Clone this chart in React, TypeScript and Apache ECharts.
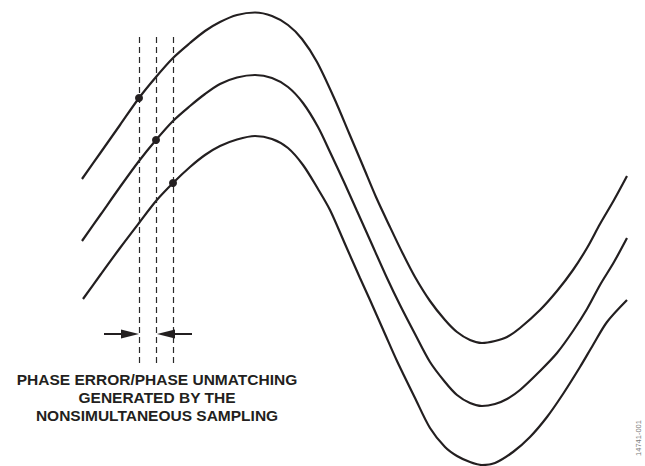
import React, { useEffect, useRef } from "react";
import * as echarts from "echarts";

// Curves: [x, y] (y grows downward)
const curveTop: [number, number][] = [
  [82, 179], [101, 152], [120, 125], [139, 98], [156, 77], [173, 58], [190, 43], [205, 31],
  [220, 22], [237, 15], [255, 12.5], [272, 16], [288, 25], [302, 39], [317, 62], [335, 100],
  [349, 133], [363, 166], [376, 197], [390, 227], [403, 254], [415, 277], [430, 301],
  [445, 320], [457, 332], [470, 340], [482, 343], [495, 341], [507, 337], [520, 328],
  [540, 310], [557, 291], [573, 270], [587, 248], [600, 224], [614, 200], [627, 176],
];
const curveMid: [number, number][] = [
  [82, 241], [101, 214], [120, 187], [139, 161], [156, 140], [173, 121], [190, 106], [205, 94],
  [220, 84], [237, 77.5], [255, 75], [272, 78], [288, 87], [303, 103], [318, 127], [330, 152],
  [344, 182], [357, 211], [370, 240], [387, 278], [400, 305], [415, 334], [430, 362],
  [445, 382], [457, 395], [470, 403], [482, 406], [495, 404], [507, 399], [520, 390],
  [540, 371], [557, 353], [573, 331], [587, 309], [600, 285], [614, 262], [627, 238],
];
const curveBot: [number, number][] = [
  [83, 299], [101, 274], [120, 248], [139, 223], [156, 201], [173, 183], [190, 167], [205, 155],
  [220, 146], [237, 139.5], [255, 136], [272, 139], [288, 148], [303, 165], [318, 189],
  [330, 210], [345, 244], [360, 278], [370, 300], [385, 334], [397, 361], [415, 398],
  [430, 428], [445, 447], [457, 456], [470, 462], [482, 465], [495, 463], [513, 452],
  [530, 437], [547, 417], [563, 394], [580, 367], [593, 345], [607, 322], [627, 300],
];

// Sampling instants (dashed lines) and sampled points
const sampleX = [139.5, 156.5, 173];
const sampleTop = 37;
const sampleBottom = 363;
const samplePoints: [number, number][] = [[139, 98], [156, 140], [173, 183]];

// Arrows: [tail x, tip x] at a given y
const arrowY = 334;
const arrows: [number, number][] = [[104, 139], [192, 157]];
const arrowHeadLen = 18;

const captionLines = [
  "PHASE ERROR/PHASE UNMATCHING",
  "GENERATED BY THE",
  "NONSIMULTANEOUS SAMPLING",
];
const figureId = "14741-001";

const INK = "#231f20";

export default function App() {
  const ref = useRef<HTMLDivElement>(null);
  useEffect(() => {
    if (!ref.current) return;
    const chart = echarts.init(ref.current, undefined, { renderer: "svg" });
    const curveSeries = [curveTop, curveMid, curveBot].map((d, i) => ({
      type: "line",
      name: "curve" + i,
      data: d,
      smooth: 0.3,
      showSymbol: false,
      symbol: "none",
      lineStyle: { color: INK, width: 2.2 },
      silent: true,
      z: 3,
    }));
    chart.setOption({
      animation: false,
      grid: { left: 0, right: 0, top: 0, bottom: 0 },
      xAxis: { type: "value", min: 0, max: 645, show: false },
      yAxis: { type: "value", min: 0, max: 466, inverse: true, show: false },
      series: [
        ...curveSeries,
        {
          type: "scatter",
          data: samplePoints,
          symbolSize: 8,
          itemStyle: { color: INK, opacity: 1 },
          silent: true,
          z: 5,
        },
        {
          type: "line",
          data: [],
          silent: true,
          markLine: {
            silent: true,
            symbol: ["none", "none"],
            label: { show: false },
            lineStyle: { color: "#2a2a2a", width: 1.2, type: [6, 4] },
            data: sampleX.map((x) => [
              { coord: [x, sampleTop] },
              { coord: [x, sampleBottom] },
            ]),
          },
        },
        {
          type: "line",
          data: [],
          silent: true,
          markLine: {
            silent: true,
            symbol: ["none", "triangle"],
            symbolSize: [9, arrowHeadLen],
            label: { show: false },
            lineStyle: { color: INK, width: 2, type: "solid" },
            itemStyle: { color: INK },
            data: arrows.map(([tail, tip]) => {
              const dir = tip > tail ? 1 : -1;
              return [
                { coord: [tail, arrowY] },
                { coord: [tip - (dir * arrowHeadLen) / 2, arrowY] },
              ];
            }),
          },
        },
      ],
      graphic: [
        {
          type: "text",
          x: 157,
          y: 370,
          style: {
            text: captionLines.join("\n"),
            fill: INK,
            font: 'bold 15.5px "Liberation Sans", Arial, sans-serif',
            textAlign: "center",
            textVerticalAlign: "top",
            lineHeight: 18.3,
          },
        },
        {
          type: "text",
          x: 638,
          y: 438,
          rotation: Math.PI / 2,
          style: {
            text: figureId,
            fill: "#7a7a7a",
            font: '7.5px "Liberation Sans", Arial, sans-serif',
            textAlign: "center",
            textVerticalAlign: "middle",
          },
        },
      ],
    });
    return () => chart.dispose();
  }, []);
  return (
    <div
      ref={ref}
      style={{ position: "absolute", left: 0, top: 0, width: 645, height: 466, background: "#fff" }}
    />
  );
}
